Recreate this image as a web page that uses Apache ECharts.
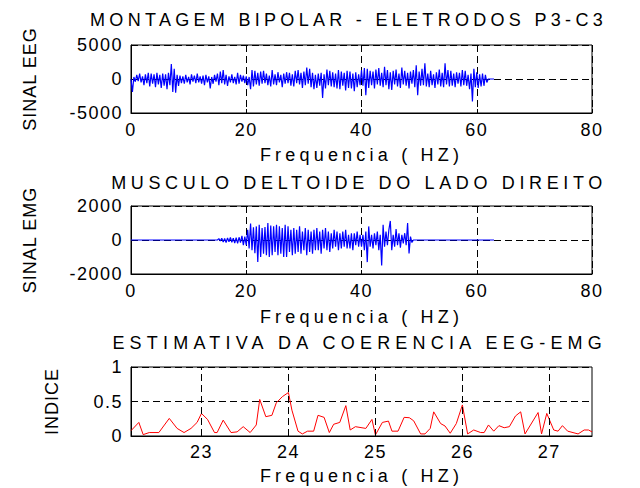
<!DOCTYPE html>
<html>
<head>
<meta charset="utf-8">
<script src="https://cdn.jsdelivr.net/npm/echarts@6/dist/echarts.min.js"></script>
<style>
html,body{margin:0;padding:0;background:#fff;}
#chart{width:640px;height:488px;}
</style>
</head>
<body>
<div id="chart"></div>
<script>
// ---------- DATA ----------
const titles = ['MONTAGEM BIPOLAR - ELETRODOS P3-C3', 'MUSCULO DELTOIDE DO LADO DIREITO', 'ESTIMATIVA DA COERENCIA EEG-EMG'];
const xName = 'Frequencia ( HZ)';
const yNames = ['SINAL EEG', 'SINAL EMG', 'INDICE'];

// EEG signal, sampled from 0 Hz every 0.25 Hz up to 63 Hz
const eegStart = 0, eegStep = 0.25;
const eegValues = [
0,-1900,300,-400, 600,-300,800,-500, 400,-900,700,-600, 900,-1100,800,-700,
700,-1200,900,-800, 600,-1300,800,-1000, 700,-1500,900,-900, 2200,-1900,1500,-2000,
600,-1000,500,-600, 400,-700,600,-500, 300,-800,700,-400, 500,-600,800,-500,
400,-700,500,-900, 600,-500,400,-1400, 300,-700,600,-400, 800,-900,1100,-600,
1300,-800,600,-1000, 400,-500,700,-600, 300,-800,900,-700, 600,-400,500,-600,
400,-900,300,-1500, 1300,-1100,1200,-800, 900,-1000,1100,-700, 1200,-600,800,-900,
500,-1100,1300,-800, 700,-900,1000,-500, 600,-1200,800,-700, 1000,-600,900,-1000,
700,-1100,1200,-600, 1300,-800,900,-1300, 1100,-900,1700,-700, 1500,-1200,900,-1500,
600,-1300,800,-1000, 900,-2800,700,-1400, 1400,-900,1200,-1100, 1000,-1200,800,-1400,
1300,-1500,1100,-1000, 900,-1700,1200,-1300, 1100,-1400,800,-1800, 1000,-1200,700,-900,
1300,-1000,1600,-2400, 1500,-1300,1200,-900, 1100,-1400,1400,-800, 1600,-1000,900,-1200,
1800,-900,1300,-1500, 1000,-1600,1200,-800, 1400,-1100,800,-1300, 1700,-800,1200,-1000,
900,-1400,1100,-700, 1300,-1200,2000,-2400, 1100,-1000,1500,-900, 2300,-1100,800,-1200,
1200,-900,700,-1300, 1000,-800,1400,-1100, 900,-1200,2300,-800, 1300,-1100,1200,-1000,
800,-1200,1000,-700, 900,-1100,1300,-900, 1200,-1000,600,-1500, 800,-3300,1500,-1200,
1000,-1300,700,-1100, 800,-1000,600,-500,
0,0,0,0,0
];

// EMG signal: flat at 0 from 0 Hz, active from 15 Hz to 49 Hz (every 0.25 Hz), flat again to 63 Hz
const emgFlatStart = [0, 0];
const emgStart = 15, emgStep = 0.25;
const emgValues = [
0,80,-60,100, -120,90,-150,120, -100,150,-130,110, -180,140,-200,160,
-150,250,-300,200, -300,600,-500,970, -600,750,-780,800, -1300,900,-1000,700,
-800,760,-900,1000, -1000,850,-900,800, -700,900,-900,800, -800,700,-1000,900,
-1000,800,-700,600, -900,700,-800,600, -700,800,-800,500, -600,700,-900,600,
-700,500,-800,600, -600,700,-600,500, -800,600,-500,700, -600,500,-700,400,
-500,600,-400,500, -600,400,-500,500, -400,600,-500,300, -500,400,-600,400,
-300,500,-400,300, -400,300,-600,500, -1300,800,-400,300, -500,400,-300,500,
-600,300,-1500,900, -400,500,-300,600, 1120,-600,300,-400, 650,-300,400,-450,
300,-200,400,-300, 1000,-790,200,-150,
0
];
const emgFlatEnd = [63, 0];

// Coherence estimate
const cohFreq = [22.19,22.28,22.33,22.40,22.51,22.63,22.72,22.80,22.88,22.95,
23.00,23.07,23.15,23.18,23.25,23.34,23.41,23.48,23.56,23.63,23.67,23.74,23.81,23.86,23.93,
24.00,24.04,24.11,24.16,24.22,24.29,24.34,24.41,24.47,24.52,24.59,24.66,24.71,24.77,24.89,24.96,
25.00,25.08,25.15,25.19,25.26,25.33,25.39,25.44,25.52,25.57,25.63,25.67,25.75,25.80,25.86,25.93,
26.00,26.06,26.13,26.21,26.25,26.30,26.36,26.42,26.48,26.54,26.61,26.67,26.72,26.87,26.91,26.97,
27.05,27.10,27.15,27.21,27.33,27.40,27.45,27.49];
const cohValues = [0.077,0.197,0.02,0.05,0.05,0.255,0.11,0.05,0.11,0.197,
0.327,0.24,0.05,0.05,0.23,0.05,0.06,0.135,0.05,0.16,0.53,0.28,0.30,0.48,0.57,
0.63,0.375,0.07,0.03,0.07,0.07,0.30,0.27,0.05,0.17,0.197,0.44,0.087,0.135,0.11,0.24,
0.015,0.197,0.216,0.07,0.07,0.27,0.265,0.22,0.03,0.03,0.11,0.35,0.18,0.145,0.04,0.18,
0.45,0.03,0.087,0.05,0.05,0.16,0.07,0.15,0.12,0.135,0.29,0.35,0.03,0.34,0.03,0.327,
0.087,0.07,0.15,0.07,0.03,0.087,0.087,0.06];
const cohTicks = [23, 24, 25, 26, 27];

// ---------- BUILD ----------
const eegData = eegValues.map((v, i) => [eegStart + i * eegStep, v]);
const emgData = [emgFlatStart].concat(emgValues.map((v, i) => [emgStart + i * emgStep, v]), [emgFlatEnd]);
const cohData = cohValues.map((v, i) => [cohFreq[i], v]);

const FONT = '"Liberation Sans", Arial, sans-serif';
const FS = 18;
const dash = [7, 4];
const grids = [
  {left: 131, right: 48, top: 45, height: 68},
  {left: 131, right: 48, top: 206, height: 68},
  {left: 131, right: 48, top: 367, height: 69}
];
grids.forEach(g => { g.show = true; g.borderColor = '#000'; g.borderWidth = 1; g.backgroundColor = 'transparent'; });

const plainNum = v => String(v);

function baseAxis(extra) {
  return Object.assign({
    type: 'value',
    axisLine: {show: true, onZero: false, lineStyle: {color: '#000', width: 1}},
    axisTick: {show: true, inside: true, length: 4, lineStyle: {color: '#000'}},
    axisLabel: {color: '#000', fontSize: FS, fontFamily: FONT, margin: 8, formatter: plainNum},
    splitLine: {show: true, lineStyle: {color: '#000', type: dash, width: 1}},
    nameTextStyle: {color: '#000', fontSize: FS, fontFamily: FONT},
    nameLocation: 'middle'
  }, extra);
}

const xAxes = [
  baseAxis({gridIndex: 0, min: 0, max: 80, interval: 20, name: xName, nameGap: 33}),
  baseAxis({gridIndex: 1, min: 0, max: 80, interval: 20, name: xName, nameGap: 34}),
  baseAxis({gridIndex: 2, min: cohFreq[0], max: cohFreq[cohFreq.length - 1], name: xName, nameGap: 31,
    axisLabel: {color: '#000', fontSize: FS, fontFamily: FONT, margin: 7, customValues: cohTicks, formatter: plainNum},
    axisTick: {show: true, inside: true, length: 4, lineStyle: {color: '#000'}, customValues: cohTicks},
    splitLine: {show: false}})
];
const yAxes = [
  baseAxis({gridIndex: 0, min: -5000, max: 5000, interval: 5000, name: yNames[0], nameGap: 92}),
  baseAxis({gridIndex: 1, min: -2000, max: 2000, interval: 2000, name: yNames[1], nameGap: 92}),
  baseAxis({gridIndex: 2, min: 0, max: 1, interval: 0.5, name: yNames[2], nameGap: 70})
];

const titleY = [20, 183, 343];
const graphics = titles.map((t, i) => ({
  type: 'text', x: 607, y: titleY[i], silent: true,
  style: {text: t, textAlign: 'right', textVerticalAlign: 'middle', fill: '#000', font: FS + 'px ' + FONT}
}));

const option = {
  animation: false,
  backgroundColor: '#fff',
  grid: grids,
  xAxis: xAxes,
  yAxis: yAxes,
  graphic: graphics,
  series: [
    {type: 'line', xAxisIndex: 0, yAxisIndex: 0, data: eegData, showSymbol: false, sampling: null,
     lineStyle: {color: '#0000ff', width: 1.2}, itemStyle: {color: '#0000ff'}},
    {type: 'line', xAxisIndex: 1, yAxisIndex: 1, data: emgData, showSymbol: false,
     lineStyle: {color: '#0000ff', width: 1.2}, itemStyle: {color: '#0000ff'}},
    {type: 'line', xAxisIndex: 2, yAxisIndex: 2, data: cohData, showSymbol: false,
     lineStyle: {color: '#ff0000', width: 1}, itemStyle: {color: '#ff0000'},
     markLine: {silent: true, symbol: 'none', label: {show: false}, animation: false,
       lineStyle: {color: '#000', type: dash, width: 1},
       data: cohTicks.map(v => ({xAxis: v}))}}
  ]
};

const chart = echarts.init(document.getElementById('chart'), null, {renderer: 'svg', width: 640, height: 488});
chart.setOption(option);

const titleSpacing = ['4.3px', '4.65px', '5.2px'];
function applySpacing() {
  document.querySelectorAll('#chart text').forEach(t => {
    const s = t.textContent;
    let ls = '1.5px';
    const ti = titles.indexOf(s);
    if (ti >= 0) ls = titleSpacing[ti];
    else if (s === xName) ls = '4.2px';
    else if (yNames.indexOf(s) >= 0) ls = '1px';
    t.style.letterSpacing = ls;
  });
}
applySpacing();
chart.on('finished', applySpacing);
requestAnimationFrame(applySpacing);
setTimeout(applySpacing, 50);
</script>
</body>
</html>
